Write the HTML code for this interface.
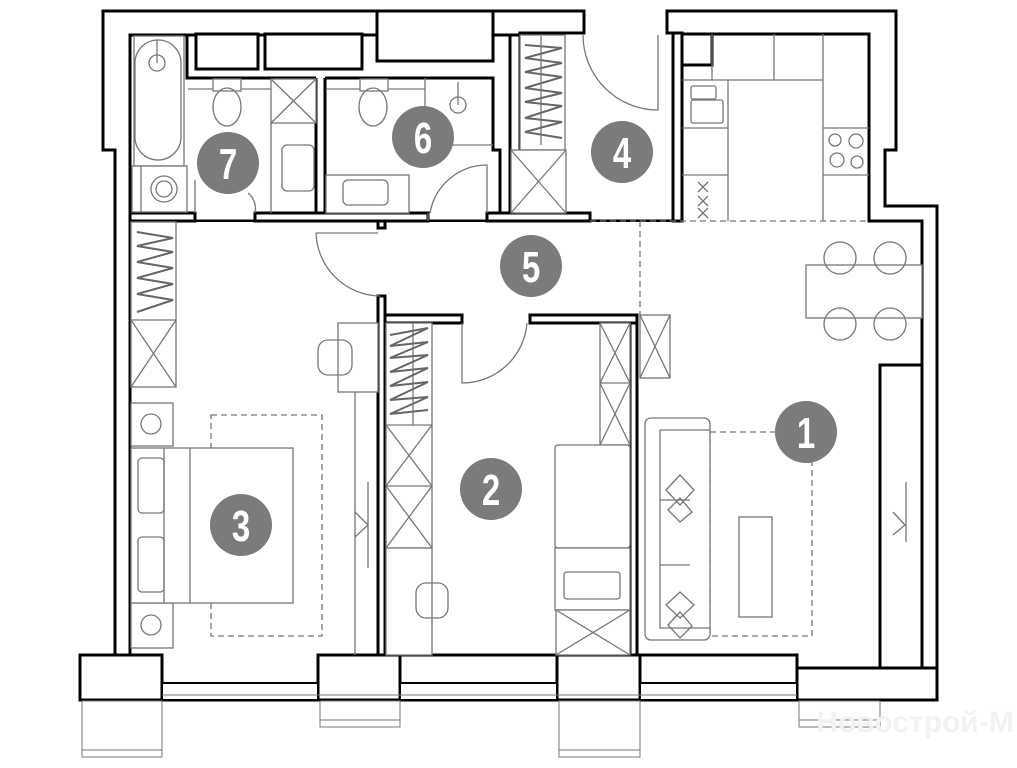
<!DOCTYPE html>
<html><head><meta charset="utf-8"><style>
html,body{margin:0;padding:0;background:#fff}
svg{display:block}
.w{fill:#fff;stroke:#000;stroke-width:3}
.f{fill:#fff;stroke:#777;stroke-width:1.3}
.l{fill:none;stroke:#777;stroke-width:1.3}
.z{fill:none;stroke:#666;stroke-width:2}
.d{fill:none;stroke:#777;stroke-width:1.3;stroke-dasharray:6 4}
.n{font-family:"Liberation Sans Narrow","Liberation Sans",sans-serif;font-weight:bold;fill:#fff;font-size:44px;text-anchor:middle}
</style></head><body>
<svg width="1017" height="768" viewBox="0 0 1017 768" xmlns="http://www.w3.org/2000/svg">
<path class="w" d="M103,11 H584 V33 H520 V150 H510 V213 H590 V221 H673 V33 H667 V11 H896 V150 H885 V206 H937 V700 H80 V655 H115 V150 H103 Z"/>
<path class="w" d="M130,35 H377 V61 H493 V35 H520 V213 H487 V221 H428 V213 H255 V221 H195 V213 H130 Z"/>
<rect x="131" y="222" width="790" height="432" fill="#fff"/>
<rect x="683" y="35" width="185" height="187" fill="#fff"/>
<path fill="none" stroke="#000" stroke-width="3" d="M682,221 V65 H712 V34 H869 V221 H922 V665"/>
<path fill="none" stroke="#000" stroke-width="3" d="M130,35 V655 H162 M318,655 H378 M400,655 H557 M640,655 H797 V668 H880 M922,221 V665"/>
<g class="w">
<rect x="80" y="655" width="82" height="45"/>
<rect x="318" y="655" width="82" height="45"/>
<rect x="557" y="655" width="83" height="45"/>
<rect x="797" y="668" width="140" height="32"/>
</g>
<g fill="#fff" stroke="#000" stroke-width="2">
<rect x="162" y="683" width="156" height="17"/>
<rect x="400" y="683" width="157" height="17"/>
<rect x="640" y="683" width="157" height="17"/>
</g>
<line x1="162" y1="695" x2="797" y2="695" stroke="#777" stroke-width="1"/>
<g fill="#fff" stroke="#777" stroke-width="1">
<rect x="82" y="701" width="80" height="56"/><line x1="82" y1="750" x2="162" y2="750"/>
<rect x="320" y="701" width="80" height="26"/><line x1="320" y1="720" x2="400" y2="720"/>
<rect x="559" y="701" width="81" height="56"/><line x1="559" y1="750" x2="640" y2="750"/>
<rect x="799" y="701" width="81" height="26"/><line x1="799" y1="720" x2="880" y2="720"/>
</g>
<g class="w">
<rect x="196" y="34" width="62" height="35"/>
<rect x="265" y="34" width="97" height="35"/>
<rect x="377" y="11" width="116" height="50"/>
<rect x="681" y="34" width="31" height="31"/>
</g>
<g class="w">
<rect x="130" y="213" width="65" height="8"/>
<rect x="255" y="213" width="173" height="8"/>
<rect x="378" y="221" width="7" height="7"/>
<rect x="487" y="213" width="103" height="8"/>
<rect x="673" y="33" width="9" height="188"/>
<rect x="510" y="35" width="10" height="178"/>
</g>
<path fill="none" stroke="#000" stroke-width="3" d="M316,78 V213 M325,78 V213 M187,35 V78 H316 M325,78 H493 V150 H500 V213"/>
<g class="w">
<rect x="378" y="296" width="7" height="359"/>
<rect x="385" y="315" width="77" height="8"/>
<rect x="530" y="315" width="107" height="8"/>
<rect x="630" y="323" width="7" height="332"/>
<rect x="880" y="365" width="42" height="303"/>
</g>
<path class="d" d="M590,221 H869 M640,221 V315"/>
<path class="l" d="M583,35 A75,75 0 0 0 658,110 V35"/>
<path class="l" d="M428,221 V213 M487,213 V165 A58,58 0 0 0 430,213"/>
<path class="l" d="M316,233 A65,65 0 0 0 380,296 M316,233 H378"/>
<path class="l" d="M462,323 V383 A65,65 0 0 0 527,323"/>
<path class="l" d="M248,193 A20,20 0 0 1 255,213 M195,213 V180"/>
<rect class="f" x="134" y="36" width="50" height="130"/>
<rect class="l" x="135" y="40" width="46" height="120" rx="23"/>
<circle class="l" cx="157" cy="63" r="8"/><path class="l" d="M157,40 V63"/>
<rect class="f" x="132" y="166" width="55" height="46"/>
<circle class="l" cx="164" cy="189" r="13"/><circle class="l" cx="164" cy="189" r="8"/>
<path class="l" d="M141,166 V212 M188,89 H316"/>
<rect class="f" x="213" y="79" width="28" height="12"/><ellipse class="l" cx="227" cy="107" rx="14" ry="19"/>
<rect class="f" x="271" y="79" width="45" height="44"/><path class="l" d="M271,79 L316,123 M316,79 L271,123 M271,123 V213"/>
<rect class="l" x="282" y="145" width="32" height="46" rx="5"/>
<path class="l" d="M326,89 H425 M425,78 V145 H493"/>
<rect class="f" x="360" y="79" width="28" height="12"/><ellipse class="l" cx="373" cy="107" rx="14" ry="19"/>
<circle class="l" cx="458" cy="105" r="8"/><path class="l" d="M458,82 V105"/>
<rect class="f" x="326" y="175" width="83" height="38"/><rect class="l" x="343" y="180" width="45" height="25" rx="5"/>
<rect class="f" x="520" y="35" width="45" height="115"/>
<rect class="f" x="511" y="150" width="55" height="63"/><path class="l" d="M511,150 L566,213 M566,150 L511,213"/>
<path class="z" d="M525,45 L562,48 L525,58 L562,63 L525,72 L562,77 L525,88 L562,93 L525,102 L562,106 L525,118 L562,122 L525,132 L562,138"/><path class="l" d="M541,36 V145"/>
<path class="l" d="M712,34 V80 H823 V221 M774,34 V80 M823,34 V80 M682,80 H728 V221 M682,128 H728 M682,175 H728 M823,128 H869 M823,175 H869"/>
<rect class="l" x="691" y="86" width="25" height="13" rx="2"/><rect class="l" x="691" y="100" width="32" height="23" rx="2"/>
<circle class="l" cx="835" cy="140" r="6"/><circle class="l" cx="856" cy="141" r="7"/><circle class="l" cx="837" cy="160" r="7"/><circle class="l" cx="857" cy="162" r="6"/>
<path class="l" d="M698,182 l10,10 M708,182 l-10,10 M698,196 l10,10 M708,196 l-10,10 M698,208 l10,10 M708,208 l-10,10"/>
<rect class="f" x="806" y="265" width="116" height="53"/>
<circle class="l" cx="840" cy="258" r="16"/><circle class="l" cx="890" cy="258" r="16"/>
<circle class="l" cx="840" cy="324" r="16"/><circle class="l" cx="890" cy="324" r="16"/>
<rect class="f" x="131" y="222" width="45" height="165"/><path class="l" d="M131,320 H176 M131,320 L176,387 M176,320 L131,387"/>
<path class="z" d="M137,232 L173,238 L137,246 L173,252 L137,262 L173,268 L137,278 L173,284 L137,294 L173,300 L137,312"/>
<rect class="f" x="131" y="403" width="42" height="43"/><circle class="l" cx="151" cy="424" r="10"/>
<rect class="f" x="131" y="603" width="42" height="45"/><circle class="l" cx="151" cy="625" r="10"/>
<rect class="d" x="211" y="415" width="111" height="221"/>
<rect class="f" x="131" y="448" width="162" height="155"/><path class="l" d="M164,448 V603 M190,448 V603"/>
<rect class="l" x="138" y="458" width="26" height="55" rx="4"/><rect class="l" x="138" y="537" width="26" height="55" rx="4"/>
<rect class="f" x="338" y="323" width="40" height="69"/><path class="l" d="M355,392 V655"/>
<rect class="l" x="318" y="340" width="34" height="35" rx="10"/>
<path class="l" d="M368,482 V568 M355,512 L368,525 L355,537"/>
<rect class="f" x="386" y="323" width="46" height="225"/>
<path class="l" d="M386,425 H432 M386,486 H432 M386,425 L432,486 M432,425 L386,486 M386,486 L432,548 M432,486 L386,548 M413,323 V425"/>
<path class="z" d="M390,335 L428,328 L390,346 L428,342 L390,358 L428,355 L390,372 L428,368 L390,386 L428,382 L390,400 L428,397 L390,414 L428,410"/>
<rect class="f" x="386" y="548" width="46" height="107"/>
<rect class="l" x="416" y="583" width="32" height="35" rx="10"/>
<rect class="f" x="600" y="323" width="30" height="122"/><path class="l" d="M600,383 H630 M600,323 L630,383 M630,323 L600,383 M600,383 L630,445 M630,383 L600,445"/>
<rect class="f" x="555" y="445" width="75" height="103" rx="3"/>
<rect class="f" x="555" y="548" width="75" height="62"/><rect class="l" x="564" y="572" width="56" height="27" rx="3"/>
<rect class="f" x="556" y="610" width="74" height="45"/><path class="l" d="M556,610 L630,655 M630,610 L556,655"/>
<rect class="f" x="640" y="315" width="30" height="63"/><path class="l" d="M640,315 L670,378 M670,315 L640,378"/>
<rect class="d" x="710" y="432" width="102" height="204"/>
<rect class="f" x="645" y="418" width="65" height="222" rx="6"/><path class="l" d="M660,430 V628 H710 M660,430 H710 M660,500 H690 M660,565 H690"/>
<path class="l" d="M666,490 L680,475 L694,490 L680,505 Z M668,510 L680,498 L692,512 L680,522 Z M666,605 L680,592 L694,605 L680,618 Z M668,625 L680,612 L692,626 L680,638 Z"/>
<rect class="f" x="739" y="517" width="33" height="100"/>
<path class="l" d="M906,482 V542 M893,512 L905,525 L893,535"/>
<g fill="#7b7b7b">
<circle cx="228" cy="163" r="31"/><circle cx="423" cy="137" r="31"/><circle cx="622" cy="152" r="31"/>
<circle cx="531" cy="266" r="31"/><circle cx="241" cy="525" r="31"/><circle cx="491" cy="489" r="31"/><circle cx="806" cy="432" r="31"/>
</g>
<g class="n">
<text transform="translate(228,179) scale(0.75,1)">7</text>
<text transform="translate(423,153) scale(0.75,1)">6</text>
<text transform="translate(622,168) scale(0.75,1)">4</text>
<text transform="translate(531,282) scale(0.75,1)">5</text>
<text transform="translate(241,541) scale(0.75,1)">3</text>
<text transform="translate(491,505) scale(0.75,1)">2</text>
<text transform="translate(806,448) scale(0.75,1)">1</text>
</g>
<text x="915" y="732" font-family="Liberation Sans,sans-serif" font-size="30" fill="#f2f2f2" text-anchor="middle" font-weight="bold">Новострой-М</text>
</svg>
</body></html>
